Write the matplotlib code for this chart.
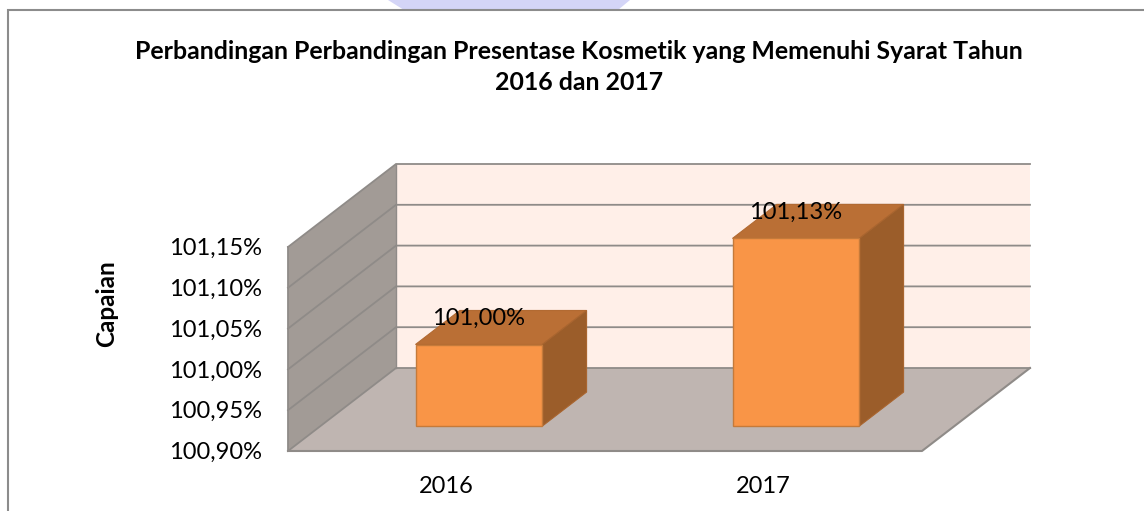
import matplotlib
matplotlib.use('Agg')
import matplotlib.pyplot as plt
from matplotlib.patches import Polygon
from matplotlib.lines import Line2D

W, H = 1144, 511

kategori = ['2016', '2017']
capaian = [101.00, 101.13]
label_capaian = ['101,00%', '101,13%']
ticks = [100.90, 100.95, 101.00, 101.05, 101.10, 101.15]
tick_label = ['100,90%', '100,95%', '101,00%', '101,05%', '101,10%', '101,15%']

judul = 'Perbandingan Perbandingan Presentase Kosmetik yang Memenuhi Syarat Tahun\n2016 dan 2017'

plt.rcParams['font.family'] = ['Lato', 'DejaVu Sans']

fig = plt.figure(figsize=(W / 100, H / 100), dpi=100)
fig.patch.set_facecolor('white')

# front plane of the 3d box in pixels
ax = fig.add_axes([288 / W, 1 - 451 / H, 634 / W, 204 / H])
ax.set_xlim(0, 2)
ax.set_ylim(ticks[0], ticks[-1])
ax.axis('off')

# depth offset of the back wall, in data units
dx = 108 / 634 * 2
dy = 83 / 204 * (ticks[-1] - ticks[0])


def proj(x, v, d=0.0):
    # d = 0 front, d = 1 back wall
    return (x + d * dx, v + d * dy)


def poli(pts, fc, ec='none', lw=0, z=1):
    ax.add_patch(Polygon(pts, closed=True, facecolor=fc, edgecolor=ec, linewidth=lw,
                         zorder=z, clip_on=False))


v0, v1 = ticks[0], ticks[-1]
garis = '#8f8b88'

# dinding belakang, dinding samping, lantai
poli([proj(0, v0, 1), proj(2, v0, 1), proj(2, v1, 1), proj(0, v1, 1)], '#ffefe8', z=1)
poli([proj(0, v0, 0), proj(0, v0, 1), proj(0, v1, 1), proj(0, v1, 0)], '#a29b96', z=1)
poli([proj(0, v0, 0), proj(2, v0, 0), proj(2, v0, 1), proj(0, v0, 1)], '#bfb5b1', z=2)

for t in ticks:
    a = proj(0, t, 0)
    b = proj(0, t, 1)
    c = proj(2, t, 1)
    ax.plot([a[0], b[0], c[0]], [a[1], b[1], c[1]], color=garis, lw=1.3, zorder=3,
            clip_on=False, solid_joinstyle='miter')
# tepi lantai
a = proj(0, v0, 0)
b = proj(2, v0, 0)
c = proj(2, v0, 1)
ax.plot([a[0], b[0], c[0]], [a[1], b[1], c[1]], color=garis, lw=1.5, zorder=3, clip_on=False)
ax.plot([a[0], a[0]], [v0, v1], color=garis, lw=1.3, zorder=3, clip_on=False)
b = proj(0, v0, 1)
ax.plot([b[0], b[0]], [v0 + dy, v1 + dy], color=garis, lw=1.0, zorder=3, clip_on=False)

# batang 3d
lebar = 0.4
d0, d1 = 0.3, 0.71
for i, nilai in enumerate(capaian):
    x0 = i + 0.5 - lebar / 2
    x1 = i + 0.5 + lebar / 2
    poli([proj(x0, nilai, d0), proj(x1, nilai, d0), proj(x1, nilai, d1), proj(x0, nilai, d1)],
         '#ba6f35', '#b26a32', 0.8, z=4)
    poli([proj(x1, v0, d0), proj(x1, v0, d1), proj(x1, nilai, d1), proj(x1, nilai, d0)],
         '#9b5d2a', '#a9652f', 0.8, z=4)
    poli([proj(x0, v0, d0), proj(x1, v0, d0), proj(x1, nilai, d0), proj(x0, nilai, d0)],
         '#f99547', '#c57a3a', 1.0, z=5)
    px = proj(i + 0.5, nilai, d0)[0]
    py = proj(i + 0.5, nilai, d1)[1]
    ax.text(px, py - 0.0095, label_capaian[i], ha='center', va='center', fontsize=17,
            color='black', zorder=6)

# label sumbu
for t, s in zip(ticks, tick_label):
    ax.text(-0.082, t - 0.002, s, ha='right', va='center', fontsize=17, color='black', clip_on=False)
for i, k in enumerate(kategori):
    ax.text(i + 0.5, ticks[0] - 0.043, k, ha='center', va='center', fontsize=17, color='black')

# bingkai dan teks di luar plot
fig.add_artist(Polygon([[388 / W, 1], [630 / W, 1], [618 / W, 1 - 10 / H], [404 / W, 1 - 10 / H]],
                       closed=True, transform=fig.transFigure, facecolor='#d4d5f7',
                       edgecolor='none', zorder=0))
fig.add_artist(Line2D([7.5 / W, 7.5 / W, 1], [0, 1 - 10 / H, 1 - 10 / H], transform=fig.transFigure,
                      color='#8c8c8c', linewidth=1.5, solid_joinstyle='miter'))
fig.text(579 / W, 1 - 67 / H, judul, ha='center', va='center', fontsize=17.9, fontweight='bold',
         linespacing=1.42, color='black')
fig.text(107 / W, 1 - 304 / H, 'Capaian', rotation=90, ha='center', va='center', fontsize=17.5,
         fontweight='bold', color='black')

fig.savefig('out.png', dpi=100)
